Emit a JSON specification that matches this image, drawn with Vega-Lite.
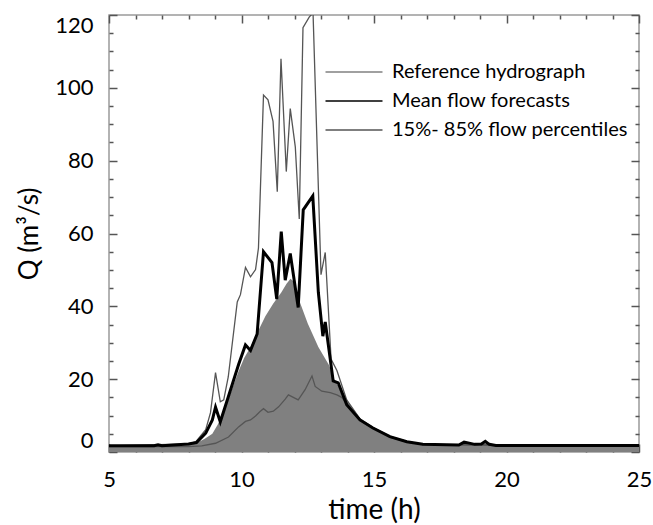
{
  "$schema": "https://vega.github.io/schema/vega-lite/v6.json",
  "width": 530,
  "height": 437,
  "autosize": {"type": "none"},
  "padding": {"left": 109, "top": 15, "right": 14, "bottom": 73},
  "background": "white",
  "config": {
    "view": {"stroke": "#9a9a9a", "strokeWidth": 1.5},
    "font": "Lato",
    "axis": {
      "domain": false,
      "grid": false,
      "zindex": 1,
      "ticks": true,
      "tickColor": "#555555",
      "tickWidth": 1.5,
      "tickOpacity": 1,
      "labelFont": "Lato",
      "labelFontSize": 22,
      "labelColor": "#000000",
      "titleFont": "Lato",
      "titleFontSize": 26,
      "titleFontWeight": "normal",
      "titleColor": "#000000"
    }
  },
  "resolve": {"axis": {"x": "independent", "y": "independent"}},
  "layer": [
    {
      "data": {"values": [
        {"t": 5, "q": 1.6}, {"t": 7, "q": 1.6}, {"t": 8, "q": 1.9}, {"t": 8.3, "q": 2.5},
        {"t": 8.6, "q": 3.6}, {"t": 8.9, "q": 5}, {"t": 9.1, "q": 7.5}, {"t": 9.3, "q": 10.5},
        {"t": 9.5, "q": 14.3}, {"t": 9.7, "q": 18.5}, {"t": 9.9, "q": 22.4}, {"t": 10.1, "q": 25.8},
        {"t": 10.3, "q": 28.3}, {"t": 10.6, "q": 32.8}, {"t": 10.9, "q": 37.3}, {"t": 11.2, "q": 40.8},
        {"t": 11.5, "q": 43.8}, {"t": 11.7, "q": 46.2}, {"t": 11.85, "q": 47.6}, {"t": 12.0, "q": 46.6},
        {"t": 12.2, "q": 41.2}, {"t": 12.5, "q": 35.3}, {"t": 12.9, "q": 28.8}, {"t": 13.3, "q": 23.9},
        {"t": 13.5, "q": 20}, {"t": 13.8, "q": 16.5}, {"t": 14.1, "q": 13}, {"t": 14.5, "q": 9},
        {"t": 15.0, "q": 6.5}, {"t": 15.5, "q": 4.6}, {"t": 16.0, "q": 3.3}, {"t": 16.5, "q": 2.4},
        {"t": 17, "q": 1.9}, {"t": 18.2, "q": 1.7}, {"t": 18.4, "q": 2.2}, {"t": 18.7, "q": 1.9},
        {"t": 19.0, "q": 1.8}, {"t": 19.2, "q": 2.3}, {"t": 19.4, "q": 1.7}, {"t": 20, "q": 1.6},
        {"t": 25, "q": 1.6}
      ]},
      "mark": {"type": "area", "opacity": 1, "clip": true},
      "encoding": {
        "x": {"field": "t", "type": "quantitative",
          "scale": {"domain": [5, 25], "nice": false, "zero": false},
          "axis": {"orient": "bottom", "offset": -8, "values": [5, 10, 15, 20, 25], "ticks": true, "tickSize": 8, "tickColor": "#555555", "tickWidth": 1.5, "labelPadding": 17, "labelFlush": false, "title": "time (h)", "titlePadding": 6, "titleFontSize": 28}},
        "y": {"field": "q", "type": "quantitative",
          "scale": {"domain": [0, 120], "nice": false, "zero": false},
          "axis": {"orient": "left", "offset": -8, "values": [0, 20, 40, 60, 80, 100, 120], "ticks": true, "tickSize": 8, "tickColor": "#555555", "tickWidth": 1.5, "labelPadding": 16, "labelFlush": true, "title": "Q (m³/s)", "titlePadding": 12}},
        "color": {"datum": "Reference hydrograph", "type": "nominal",
          "scale": {"domain": ["Reference hydrograph", "Mean flow forecasts", "15%- 85% flow percentiles"], "range": ["#808080", "#000000", "#555555"]},
          "legend": {
            "title": null, "orient": "none", "legendX": 230, "legendY": 42,
            "symbolType": "M-2,0H2", "symbolSize": 812, "symbolStrokeWidth": 1.3,
            "symbolFillColor": "transparent", "symbolOpacity": 1,
            "labelFont": "Lato", "labelFontSize": 20, "labelColor": "#000000", "labelOffset": 23, "labelLimit": 400,
            "rowPadding": 4, "padding": 0
          }}
      }
    },
    {
      "data": {"values": [
        {"t": 5, "q": 1.5}, {"t": 8.0, "q": 1.5}, {"t": 8.5, "q": 1.7}, {"t": 9.02, "q": 2.4},
        {"t": 9.51, "q": 4.1}, {"t": 9.89, "q": 6.9}, {"t": 10.15, "q": 8.4}, {"t": 10.34, "q": 8.8},
        {"t": 10.53, "q": 9.9}, {"t": 10.7, "q": 11.1}, {"t": 10.83, "q": 11.9}, {"t": 11.0, "q": 10.9},
        {"t": 11.2, "q": 11.2}, {"t": 11.4, "q": 12.4}, {"t": 11.65, "q": 14.5}, {"t": 11.77, "q": 15.7},
        {"t": 12.14, "q": 14.3}, {"t": 12.4, "q": 17.1}, {"t": 12.66, "q": 20.9}, {"t": 12.78, "q": 18},
        {"t": 13.03, "q": 16.7}, {"t": 13.35, "q": 16.3}, {"t": 13.6, "q": 15.7}, {"t": 13.78, "q": 15},
        {"t": 14.16, "q": 11.6}, {"t": 14.47, "q": 8.8}, {"t": 14.96, "q": 6.6}, {"t": 15.6, "q": 4.1},
        {"t": 16.24, "q": 2.7}, {"t": 16.84, "q": 2}, {"t": 25, "q": 1.6}
      ]},
      "mark": {"type": "line", "strokeWidth": 1.3, "clip": true},
      "encoding": {
        "x": {"field": "t", "type": "quantitative",
          "axis": {"orient": "bottom", "offset": -4, "values": [6,7,8,9,11,12,13,14,16,17,18,19,21,22,23,24], "ticks": true, "tickSize": 4, "labels": false, "title": null}},
        "y": {"field": "q", "type": "quantitative",
          "axis": {"orient": "left", "offset": -4, "values": [5,10,15,25,30,35,45,50,55,65,70,75,85,90,95,105,110,115], "ticks": true, "tickSize": 4, "labels": false, "title": null}},
        "color": {"datum": "15%- 85% flow percentiles", "type": "nominal"}
      }
    },
    {
      "data": {"values": [
        {"t": 5, "q": 1.7}, {"t": 8.0, "q": 2.2}, {"t": 8.27, "q": 2.8}, {"t": 8.65, "q": 6.1},
        {"t": 8.83, "q": 10.8}, {"t": 9.02, "q": 21.8}, {"t": 9.2, "q": 13.8}, {"t": 9.33, "q": 14.3},
        {"t": 9.5, "q": 20.6}, {"t": 9.84, "q": 41.2}, {"t": 9.96, "q": 43.2}, {"t": 10.15, "q": 50.7},
        {"t": 10.34, "q": 48.1}, {"t": 10.53, "q": 50.1}, {"t": 10.64, "q": 56}, {"t": 10.83, "q": 98},
        {"t": 11.0, "q": 96.7}, {"t": 11.19, "q": 90.8}, {"t": 11.35, "q": 71.5}, {"t": 11.49, "q": 108},
        {"t": 11.69, "q": 77}, {"t": 11.84, "q": 94.3}, {"t": 12.03, "q": 83.8}, {"t": 12.18, "q": 64},
        {"t": 12.32, "q": 116.5}, {"t": 12.56, "q": 119.5}, {"t": 12.7, "q": 120.5}, {"t": 13.0, "q": 48.7},
        {"t": 13.16, "q": 54.8}, {"t": 13.38, "q": 25.5}, {"t": 13.6, "q": 22.4}, {"t": 13.97, "q": 14.3},
        {"t": 14.47, "q": 9.1}, {"t": 14.96, "q": 6.8}, {"t": 15.6, "q": 4.3}, {"t": 16.24, "q": 2.9},
        {"t": 16.84, "q": 2.1}, {"t": 25, "q": 1.8}
      ]},
      "mark": {"type": "line", "strokeWidth": 1.3, "clip": true},
      "encoding": {
        "x": {"field": "t", "type": "quantitative",
          "axis": {"orient": "top", "offset": -8, "values": [5, 10, 15, 20, 25], "ticks": true, "tickSize": 8, "labels": false, "title": null}},
        "y": {"field": "q", "type": "quantitative",
          "axis": {"orient": "right", "offset": -8, "values": [0, 20, 40, 60, 80, 100, 120], "ticks": true, "tickSize": 8, "labels": false, "title": null}},
        "color": {"datum": "15%- 85% flow percentiles", "type": "nominal"}
      }
    },
    {
      "data": {"values": [
        {"t": 5, "q": 1.7}, {"t": 6.7, "q": 1.7}, {"t": 6.85, "q": 2.0}, {"t": 7.0, "q": 1.7},
        {"t": 8.0, "q": 2.2}, {"t": 8.3, "q": 2.6}, {"t": 8.65, "q": 5.2}, {"t": 8.9, "q": 8.8},
        {"t": 9.02, "q": 12.3}, {"t": 9.2, "q": 8.3}, {"t": 9.5, "q": 15.1}, {"t": 9.89, "q": 24},
        {"t": 10.15, "q": 29.4}, {"t": 10.34, "q": 27.9}, {"t": 10.59, "q": 32.4}, {"t": 10.83, "q": 55},
        {"t": 11.15, "q": 52}, {"t": 11.33, "q": 42}, {"t": 11.5, "q": 60.5}, {"t": 11.65, "q": 47.2},
        {"t": 11.84, "q": 54.5}, {"t": 12.14, "q": 39.7}, {"t": 12.33, "q": 66.5}, {"t": 12.69, "q": 70.3},
        {"t": 12.9, "q": 43.8}, {"t": 13.07, "q": 31.8}, {"t": 13.16, "q": 35.7}, {"t": 13.46, "q": 19.5},
        {"t": 13.65, "q": 19}, {"t": 13.97, "q": 13}, {"t": 14.47, "q": 8.8}, {"t": 14.96, "q": 6.6},
        {"t": 15.6, "q": 4.2}, {"t": 16.24, "q": 2.8}, {"t": 16.84, "q": 2.1}, {"t": 18.2, "q": 1.9},
        {"t": 18.4, "q": 2.7}, {"t": 18.55, "q": 2.5}, {"t": 18.8, "q": 2.1}, {"t": 19.05, "q": 2.2},
        {"t": 19.2, "q": 2.9}, {"t": 19.35, "q": 2.1}, {"t": 19.6, "q": 1.8}, {"t": 25, "q": 1.8}
      ]},
      "mark": {"type": "line", "strokeWidth": 3, "clip": true},
      "encoding": {
        "x": {"field": "t", "type": "quantitative",
          "axis": {"orient": "top", "offset": -4, "values": [6,7,8,9,11,12,13,14,16,17,18,19,21,22,23,24], "ticks": true, "tickSize": 4, "labels": false, "title": null}},
        "y": {"field": "q", "type": "quantitative",
          "axis": {"orient": "right", "offset": -4, "values": [5,10,15,25,30,35,45,50,55,65,70,75,85,90,95,105,110,115], "ticks": true, "tickSize": 4, "labels": false, "title": null}},
        "color": {"datum": "Mean flow forecasts", "type": "nominal"}
      }
    }
  ]
}
